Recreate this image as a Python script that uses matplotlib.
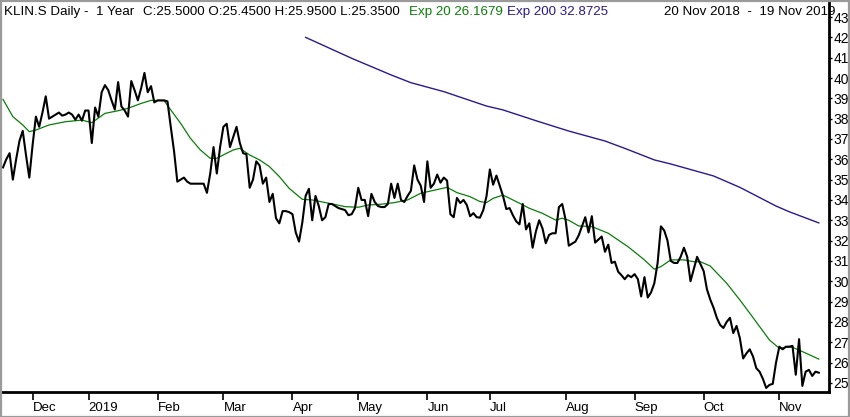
import numpy as np
import pandas as pd
import matplotlib
matplotlib.use("Agg")
import matplotlib.pyplot as plt
from matplotlib.patches import Rectangle

# ---------------- data ----------------
close = [
    35.6, 36.0, 36.3, 35.0, 36.0, 36.9, 37.4, 36.2, 35.1, 36.7,
    38.1, 37.6, 38.3, 39.1, 38.0, 38.1, 38.2, 38.3, 38.15, 38.2,
    38.3, 38.2, 37.95, 38.2, 37.9, 38.4, 38.4, 36.8, 38.55, 38.1,
    39.3, 39.65, 39.4, 38.9, 38.45, 39.8, 38.6, 38.4, 38.1, 39.85,
    39.4, 38.9, 39.5, 40.25, 39.3, 39.6, 38.8, 38.9, 38.9, 38.9,
    38.85, 37.6, 36.4, 34.9, 35.0, 35.1, 34.9, 34.8, 34.8, 34.8,
    34.8, 34.8, 34.35, 35.3, 36.6, 35.3, 36.6, 37.6, 37.75, 36.6,
    37.1, 37.6, 36.8, 36.3, 36.25, 34.6, 35.0, 35.9, 35.7, 34.8,
    35.1, 33.9, 34.3, 33.1, 32.85, 33.45, 33.45, 33.4, 33.3, 32.4,
    31.95, 32.9, 34.2, 34.55, 33.0, 34.2, 33.7, 33.0, 33.15, 33.8,
    33.8, 33.7, 33.6, 33.55, 33.5, 33.25, 33.3, 33.6, 34.6, 34.0,
    34.0, 33.2, 34.3, 33.9, 33.7, 33.65, 33.65, 33.8, 34.8, 34.1,
    34.8, 34.0, 33.9, 34.2, 34.45, 35.7, 35.0, 34.7, 33.9, 35.9,
    34.6, 34.8, 35.25, 34.85, 35.1, 34.95, 33.3, 33.15, 34.1, 33.85,
    34.0, 33.75, 33.2, 33.35, 33.15, 33.13, 33.5, 34.2, 35.5, 34.75,
    35.2, 34.7, 34.2, 33.55, 33.6, 33.25, 32.95, 32.8, 33.8, 32.55,
    32.85, 31.65, 32.45, 33.0, 32.6, 31.87, 32.28, 32.36, 32.36, 33.65,
    33.8, 33.05, 31.75, 31.85, 31.95, 32.25, 32.7, 33.15, 32.4, 33.2,
    31.9, 32.05, 32.2, 31.45, 31.8, 30.9, 30.96, 30.47, 30.3, 30.1,
    30.3, 30.2, 30.35, 30.1, 29.25, 30.2, 29.2, 29.45, 29.9, 30.9,
    32.7, 32.5, 32.0, 31.0, 30.9, 30.9, 31.2, 31.65, 31.2, 30.0,
    30.6, 31.2, 30.85, 30.5, 29.6, 29.1, 28.7, 28.2, 27.85, 27.7,
    28.0, 28.2, 27.45, 27.8, 27.2, 26.2, 26.45, 26.65, 26.3, 25.72,
    25.55, 25.2, 24.75, 24.9, 24.95, 26.0, 26.78, 26.65, 26.78, 26.78,
    26.82, 25.4, 27.15, 24.85, 25.55, 25.64, 25.34, 25.55, 25.5,
]

# Exp 20 (sampled along the curve: trading-day index -> value)
ema20_idx = [0, 3, 6, 8, 10, 14, 19, 24, 27, 31, 35, 38, 42, 45, 49, 51, 54, 57, 60, 63,
             65, 68, 70, 72, 75, 78, 81, 84, 87, 91, 94, 99, 104, 108, 111, 115, 119, 123, 127, 130,
             135, 138, 142, 145, 147, 149, 152, 154, 157, 160, 164, 168, 170, 172, 175, 179, 184, 190, 195, 198,
             200, 203, 207, 210, 212, 215, 220, 224, 227, 230, 233, 236, 238, 240, 243, 248]
ema20_val = [38.95, 38.1, 37.69, 37.36, 37.44, 37.69, 37.85, 37.93, 37.80, 38.26,
             38.39, 38.51, 38.75, 38.9, 38.88, 38.43, 37.77, 37.03, 36.46, 36.05,
             36.05, 36.30, 36.46, 36.54, 36.21, 35.97, 35.64, 35.15, 34.57, 34.03,
             34.0, 33.84, 33.67, 33.64, 33.75, 33.79, 33.87, 34.0, 34.33, 34.44,
             34.62, 34.36, 34.16, 33.92, 33.87, 34.08, 34.24, 34.08, 33.84, 33.59,
             33.34, 33.01, 33.10, 33.0, 32.72, 32.69, 32.36, 31.70, 31.05, 30.59,
             30.72, 31.05, 31.05, 30.96, 30.96, 30.75, 29.90, 29.08, 28.43, 27.77,
             27.11, 26.70, 26.75, 26.75, 26.54, 26.17]

# Exp 200 (sampled along the curve)
ema200_idx = [92, 106, 118, 124, 134, 147, 152, 162, 172, 183, 189, 198, 203, 216, 224, 235, 239, 248]
ema200_val = [42.0, 40.97, 40.15, 39.77, 39.33, 38.62, 38.43, 37.90, 37.39, 36.90,
              36.54, 35.97, 35.77, 35.18, 34.62, 33.70, 33.42, 32.87]

month_labels = ["Dec", "2019", "Feb", "Mar", "Apr", "May", "Jun", "Jul", "Aug", "Sep", "Oct", "Nov"]
price_ticks = list(range(25, 44))
exchange_holidays = ["2018-12-24", "2018-12-25", "2018-12-26", "2018-12-31",
                     "2019-01-01", "2019-01-02", "2019-04-19", "2019-04-22",
                     "2019-05-01", "2019-05-30", "2019-06-10", "2019-08-01"]

header_main = "KLIN.S Daily -  1 Year"
header_ohlc = "C:25.5000 O:25.4500 H:25.9500 L:25.3500"
header_e20 = "Exp 20 26.1679"
header_e200 = "Exp 200 32.8725"
header_range = "20 Nov 2018  -  19 Nov 2019"

GREEN = "#0a7d0a"
NAVY = "#2a1a8c"

# ---------------- trading calendar ----------------
days = pd.bdate_range("2018-11-20", "2019-11-19")
days = days[~days.isin(pd.to_datetime(exchange_holidays))]
n = min(len(days), len(close))
days = days[:n]
xs = np.arange(n)
months = days.to_period("M")
month_starts = [i for i in range(1, n) if months[i] != months[i - 1]]

# ---------------- figure ----------------
plt.rcParams["font.family"] = ["Liberation Sans", "DejaVu Sans"]

W, H = 850, 417
fig = plt.figure(figsize=(W / 100, H / 100), dpi=100)
fig.patch.set_facecolor("white")

ax = fig.add_axes([2 / W, (H - 392) / H, (829 - 2) / W, (392 - 2) / H])
ax.set_facecolor("white")

ax.plot(xs, close[:n], color="black", lw=1.5, zorder=3)
ax.plot(ema20_idx, ema20_val, color=GREEN, lw=0.9, zorder=2)
ax.plot(ema200_idx, ema200_val, color=NAVY, lw=1.0, zorder=2)

ax.set_xlim(-0.3, 251.1)
ax.set_ylim(24.55, 43.74)

for s in ["left", "top"]:
    ax.spines[s].set_visible(False)
for s in ["bottom", "right"]:
    ax.spines[s].set_linewidth(2.0)
    ax.spines[s].set_color("black")

ax.yaxis.tick_right()
ax.set_yticks(price_ticks)
ax.set_yticklabels([str(t) for t in price_ticks])
ax.tick_params(axis="y", which="both", direction="out", length=2, width=1,
               pad=1, labelsize=10, colors="black")

ax.set_xticks(month_starts[:len(month_labels)])
ax.set_xticklabels(month_labels[:len(month_starts)])
ax.tick_params(axis="x", direction="out", length=6, width=1.2, pad=1, labelsize=9.5)
for lab in ax.get_xticklabels():
    lab.set_ha("left")

# header texts, laid out left to right without overlap
ty = 1 - 12 / H
HFS = 9.6
renderer = fig.canvas.get_renderer()
targets = [(4, header_main, "black"), (143, header_ohlc, "black"),
           (409, header_e20, GREEN), (496, header_e200, NAVY)]
prev_end = 0
for tx, txt, col in targets:
    px = max(tx, prev_end + 4)
    t = fig.text(px / W, ty, txt, fontsize=HFS, va="center", ha="left", color=col)
    bb = t.get_window_extent(renderer=renderer)
    prev_end = bb.x1
fig.text(836 / W, ty, header_range, fontsize=HFS, va="center", ha="right", color="black")

# outer grey frame
fig.patches.append(Rectangle((0.5 / W, 0.5 / H), 1 - 1.5 / W, 1 - 1.5 / H,
                             transform=fig.transFigure, fill=False,
                             edgecolor="#9a9a9a", lw=1.6, zorder=10))

fig.savefig("out.png", dpi=100, facecolor="white")
